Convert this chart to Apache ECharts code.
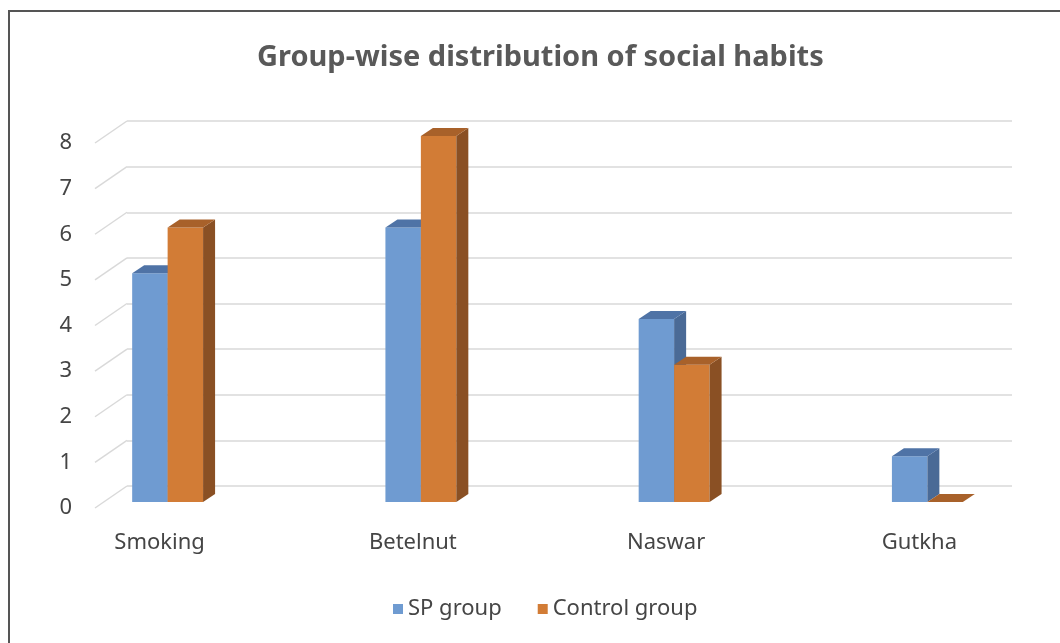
<!DOCTYPE html>
<html>
<head>
<meta charset="utf-8">
<script src="https://cdn.jsdelivr.net/npm/echarts@6/dist/echarts.min.js"></script>
<style>
  html, body { margin: 0; padding: 0; background: #fff; }
  #chart { width: 1060px; height: 643px; }
</style>
</head>
<body>
<div id="chart"></div>
<script>
const categories = ['Smoking', 'Betelnut', 'Naswar', 'Gutkha']
const spGroup = [5, 6, 4, 1]
const controlGroup = [6, 8, 3, 0]
const yTicks = [0, 1, 2, 3, 4, 5, 6, 7, 8]

const textColor = '#454545'
const gridColor = '#d9d9d9'

// 3d-looking bar: front face, top face, right side face
const bar3d = (side, front, topColor, sideColor) => (params, api) => {
  const idx = api.value(0)
  const c = api.coord([idx, api.value(1)])
  const base = api.coord([idx, 0])
  const w = api.size([1, 0])[0] * 0.14
  const x0 = side === 0 ? c[0] - w : c[0]
  const x1 = x0 + w
  const top = c[1]
  const bot = base[1]
  const dx = 12
  const dy = -8
  return {
    type: 'group',
    children: [
      {
        type: 'rect',
        shape: { x: x0, y: top, width: w, height: bot - top },
        style: { fill: front },
      },
      {
        type: 'polygon',
        shape: { points: [[x1, top], [x1 + dx, top + dy], [x1 + dx, bot + dy], [x1, bot]] },
        style: { fill: sideColor },
      },
      {
        type: 'polygon',
        shape: { points: [[x0, top], [x1, top], [x1 + dx, top + dy], [x0 + dx, top + dy]] },
        style: { fill: topColor },
      },
    ],
  }
}

const chart = echarts.init(document.getElementById('chart'))

chart.setOption({
  animation: false,
  title: {
    text: 'Group-wise distribution of social habits',
    left: 252,
    top: 38,
    textStyle: { fontFamily: 'Noto Sans', fontSize: 29, fontWeight: 'bold', color: '#595959' },
  },
  legend: {
    top: 593,
    left: 388,
    icon: 'rect',
    itemWidth: 10,
    itemHeight: 10,
    itemGap: 36,
    itemTextGap: 4,
    textStyle: { fontFamily: 'Noto Sans', fontSize: 22, color: textColor },
    data: ['SP group', 'Control group'],
  },
  graphic: [
    {
      type: 'rect',
      shape: { x: 9, y: 11, width: 1100, height: 700 },
      style: { fill: 'none', stroke: '#555', lineWidth: 2 },
      silent: true,
    },
  ],
  grid: [
    // back wall
    { left: 127, right: 48, top: 121, bottom: 157 },
    // front edge, for tick labels
    { left: 95, right: 80, top: 143, bottom: 135 },
    // bar front faces
    { left: 41, right: 6, top: 136, bottom: 141 },
  ],
  xAxis: [
    { gridIndex: 0, type: 'value', min: 0, max: 1, show: false },
    { gridIndex: 1, type: 'value', min: 0, max: 1, show: false },
    {
      gridIndex: 2,
      type: 'category',
      data: categories,
      axisLine: { show: false },
      axisTick: { show: false },
      axisLabel: {
        color: textColor,
        fontFamily: 'Noto Sans',
        fontSize: 22,
        margin: 30,
        padding: [0, 16, 0, 0],
      },
    },
  ],
  yAxis: [
    {
      gridIndex: 0,
      type: 'value',
      min: 0,
      max: 8,
      interval: 1,
      axisLabel: { show: false },
      axisLine: { show: false },
      axisTick: { show: false },
      splitLine: { lineStyle: { color: gridColor, width: 1.5 } },
    },
    {
      gridIndex: 1,
      type: 'value',
      min: 0,
      max: 8,
      interval: 1,
      axisLine: { show: false },
      axisTick: { show: false },
      splitLine: { show: false },
      axisLabel: { color: textColor, fontFamily: 'Noto Sans', fontSize: 22, margin: 23 },
    },
    { gridIndex: 2, type: 'value', min: 0, max: 8, show: false },
  ],
  series: [
    {
      name: 'floor edges',
      type: 'custom',
      xAxisIndex: 0,
      yAxisIndex: 0,
      silent: true,
      data: yTicks.map((v) => [0, v]),
      renderItem: (params, api) => {
        const p = api.coord([0, api.value(1)])
        return {
          type: 'line',
          shape: { x1: p[0], y1: p[1], x2: p[0] - 32, y2: p[1] + 22 },
          style: { stroke: gridColor, lineWidth: 1.5 },
        }
      },
    },
    {
      name: 'SP group',
      type: 'custom',
      xAxisIndex: 2,
      yAxisIndex: 2,
      itemStyle: { color: '#6f9bd1' },
      data: spGroup.map((v, i) => [i, v]),
      renderItem: bar3d(0, '#6f9bd1', '#4f73a6', '#4a6a96'),
    },
    {
      name: 'Control group',
      type: 'custom',
      xAxisIndex: 2,
      yAxisIndex: 2,
      itemStyle: { color: '#d27c36' },
      data: controlGroup.map((v, i) => [i, v]),
      renderItem: bar3d(1, '#d27c36', '#a8612a', '#8a5024'),
    },
  ],
})
</script>
</body>
</html>
